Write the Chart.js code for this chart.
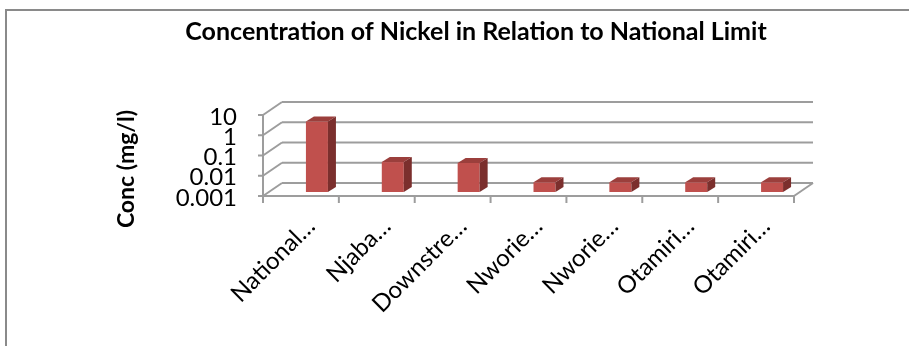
<!DOCTYPE html>
<html>
<head>
<meta charset="utf-8">
<script src="https://cdn.jsdelivr.net/npm/chart.js@4/dist/chart.umd.min.js"></script>
<style>
  html, body { margin: 0; padding: 0; background: #fff; }
  #wrap { width: 909px; height: 346px; }
</style>
</head>
<body>
<div id="wrap"><canvas id="c" width="909" height="346"></canvas></div>
<script>
// Sampling sites and measured nickel concentration (mg/l)
const categories = ['National…', 'Njaba…', 'Downstre…', 'Nworie…', 'Nworie…', 'Otamiri…', 'Otamiri…'];
const nickelConc = [3, 0.03, 0.027, 0.003, 0.003, 0.003, 0.003];

// Logarithmic axis: one tick per decade
const yTickValues = [0.001, 0.01, 0.1, 1, 10];
const yTickLabels = ['0.001', '0.01', '0.1', '1', '10'];

const chartTitle = 'Concentration of Nickel in Relation to National Limit';
const yAxisTitle = 'Conc (mg/l)';

// Oblique projection used for the 3-D look
const WALL_DX = 19, WALL_DY = -13;      // depth of the floor / back wall
const BAR_SHIFT_X = 16, BAR_SHIFT_Y = -4; // bars sit a little behind the front edge
const BAR_DX = 8, BAR_DY = -5;          // depth of each bar
const GRID = '#9d9d9d';
const BAR_FRONT = '#c0504d', BAR_TOP = '#9b3f3c', BAR_SIDE = '#7b2f2d';
const FONT = 'Lato, "Open Sans", sans-serif';

function line(ctx, x1, y1, x2, y2) {
  ctx.beginPath();
  ctx.moveTo(x1, y1);
  ctx.lineTo(x2, y2);
  ctx.stroke();
}

const frame3d = {
  id: 'frame3d',
  beforeDraw(chart) {
    const ctx = chart.ctx;
    ctx.save();
    ctx.strokeStyle = '#8a8a8a';
    ctx.lineWidth = 2;
    ctx.strokeRect(6, 10, 920, 360);
    ctx.restore();
  },
  beforeDatasetsDraw(chart) {
    const ctx = chart.ctx;
    const xs = chart.scales.x, ys = chart.scales.y;
    const L = xs.left, R = xs.right;
    const B = ys.getPixelForValue(yTickValues[0]);
    ctx.save();
    ctx.strokeStyle = GRID;
    ctx.lineWidth = 2;
    ctx.lineCap = 'butt';
    // back wall grid lines and left wall diagonals
    yTickValues.forEach(v => {
      const y = ys.getPixelForValue(v);
      line(ctx, L + WALL_DX, y + WALL_DY, R + WALL_DX, y + WALL_DY);
      line(ctx, L, y, L + WALL_DX, y + WALL_DY);
      line(ctx, L - 5, y, L, y);
    });
    // front vertical axis
    const T = ys.getPixelForValue(yTickValues[yTickValues.length - 1]);
    line(ctx, L, T - 1, L, B + 7);
    // floor front edge and right side
    line(ctx, L, B, R, B);
    line(ctx, R, B, R + WALL_DX, B + WALL_DY);
    // category tick marks
    for (let i = 0; i <= categories.length; i++) {
      const x = xs.getPixelForValue(i - 0.5);
      line(ctx, x, B, x, B + 7);
    }
    ctx.restore();

    // bars are drawn slightly back from the front plane
    ctx.save();
    ctx.translate(BAR_SHIFT_X, BAR_SHIFT_Y);
  },
  afterDatasetsDraw(chart) {
    const ctx = chart.ctx;
    const meta = chart.getDatasetMeta(0);
    meta.data.forEach(bar => {
      const { x, y, base, width } = bar.getProps(['x', 'y', 'base', 'width'], true);
      const l = x - width / 2, r = x + width / 2;
      // top face
      ctx.fillStyle = BAR_TOP;
      ctx.beginPath();
      ctx.moveTo(l, y);
      ctx.lineTo(l + BAR_DX, y + BAR_DY);
      ctx.lineTo(r + BAR_DX, y + BAR_DY);
      ctx.lineTo(r, y);
      ctx.closePath();
      ctx.fill();
      // side face
      ctx.fillStyle = BAR_SIDE;
      ctx.beginPath();
      ctx.moveTo(r, y);
      ctx.lineTo(r + BAR_DX, y + BAR_DY);
      ctx.lineTo(r + BAR_DX, base + BAR_DY);
      ctx.lineTo(r, base);
      ctx.closePath();
      ctx.fill();
    });
    ctx.restore();
  },
  afterDraw(chart) {
    const ctx = chart.ctx;
    ctx.save();
    ctx.fillStyle = '#000';
    ctx.textAlign = 'center';
    ctx.textBaseline = 'middle';
    // chart title
    ctx.font = 'bold 25px ' + FONT;
    ctx.fillText(chartTitle, 476, 32);
    // vertical axis title
    ctx.translate(127, 169);
    ctx.rotate(-Math.PI / 2);
    ctx.font = 'bold 23px ' + FONT;
    ctx.fillText(yAxisTitle, 0, 0);
    ctx.restore();
  }
};

new Chart(document.getElementById('c'), {
  type: 'bar',
  data: {
    labels: categories,
    datasets: [{
      data: nickelConc,
      backgroundColor: BAR_FRONT,
      borderWidth: 0,
      barPercentage: 0.29,
      categoryPercentage: 1,
      clip: false
    }]
  },
  options: {
    responsive: false,
    animation: false,
    devicePixelRatio: 1,
    layout: { padding: { left: 115, right: 115, top: 115, bottom: 0 } },
    plugins: {
      legend: { display: false },
      tooltip: { enabled: false },
      title: { display: false }
    },
    scales: {
      x: {
        grid: { display: false, drawTicks: false },
        border: { display: false },
        ticks: {
          color: '#000',
          font: { family: FONT, size: 24 },
          minRotation: 45,
          maxRotation: 45,
          autoSkip: false,
          padding: 16,
          labelOffset: 10
        },
        afterFit(scale) { scale.height = 150; }
      },
      y: {
        type: 'logarithmic',
        min: 0.001,
        max: 10,
        grid: { display: false, drawTicks: false },
        border: { display: false },
        ticks: {
          color: '#000',
          font: { family: FONT, size: 24 },
          padding: 26,
          labelOffset: 2,
          autoSkip: false,
          callback: (v) => {
            const i = yTickValues.indexOf(v);
            return i >= 0 ? yTickLabels[i] : '';
          }
        },
        afterBuildTicks(scale) {
          scale.ticks = yTickValues.map(v => ({ value: v }));
        },
        afterFit(scale) { scale.width = 148; }
      }
    }
  },
  plugins: [frame3d]
});
</script>
</body>
</html>
